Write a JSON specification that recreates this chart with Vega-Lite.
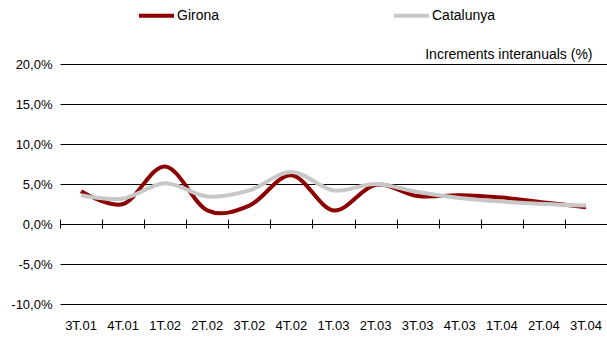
{
  "$schema": "https://vega.github.io/schema/vega-lite/v6.json",
  "width": 547,
  "height": 240,
  "autosize": "none",
  "padding": {"left": 60, "top": 64, "right": 0, "bottom": 34},
  "background": "white",
  "data": {
    "values": [
      {"q": "3T.01", "s": "Girona", "v": 4.1},
      {"q": "4T.01", "s": "Girona", "v": 2.5},
      {"q": "1T.02", "s": "Girona", "v": 7.2},
      {"q": "2T.02", "s": "Girona", "v": 1.7},
      {"q": "3T.02", "s": "Girona", "v": 2.3},
      {"q": "4T.02", "s": "Girona", "v": 6.1},
      {"q": "1T.03", "s": "Girona", "v": 1.7},
      {"q": "2T.03", "s": "Girona", "v": 4.9},
      {"q": "3T.03", "s": "Girona", "v": 3.5},
      {"q": "4T.03", "s": "Girona", "v": 3.6},
      {"q": "1T.04", "s": "Girona", "v": 3.3},
      {"q": "2T.04", "s": "Girona", "v": 2.7},
      {"q": "3T.04", "s": "Girona", "v": 2.1},
      {"q": "3T.01", "s": "Catalunya", "v": 3.6},
      {"q": "4T.01", "s": "Catalunya", "v": 3.2},
      {"q": "1T.02", "s": "Catalunya", "v": 5.1},
      {"q": "2T.02", "s": "Catalunya", "v": 3.45},
      {"q": "3T.02", "s": "Catalunya", "v": 4.2},
      {"q": "4T.02", "s": "Catalunya", "v": 6.5},
      {"q": "1T.03", "s": "Catalunya", "v": 4.2},
      {"q": "2T.03", "s": "Catalunya", "v": 5.0},
      {"q": "3T.03", "s": "Catalunya", "v": 4.0},
      {"q": "4T.03", "s": "Catalunya", "v": 3.25},
      {"q": "1T.04", "s": "Catalunya", "v": 2.8},
      {"q": "2T.04", "s": "Catalunya", "v": 2.5},
      {"q": "3T.04", "s": "Catalunya", "v": 2.3}
    ]
  },
  "layer": [
    {
      "mark": {"type": "line", "opacity": 0},
      "encoding": {
        "x": {
          "field": "q", "type": "ordinal", "sort": null,
          "scale": {"type": "band", "paddingInner": 0, "paddingOuter": 0},
          "axis": {
            "orient": "top", "offset": -164, "labels": false, "domain": false,
            "ticks": true, "tickSize": 9, "tickColor": "#000", "tickWidth": 1, "tickBand": "extent", "grid": false,
            "title": "Increments interanuals (%)",
            "titleX": 532, "titleY": -170, "titleAlign": "right", "titleAnchor": null, "titleBaseline": "alphabetic",
            "titleFont": "Liberation Sans", "titleFontSize": 14, "titleFontWeight": "normal", "titleColor": "#000"
          }
        },
        "y": {
          "field": "v", "type": "quantitative",
          "scale": {"domain": [-10, 20], "nice": false, "zero": false},
          "axis": {
            "title": null, "values": [-10, -5, 0, 5, 10, 15, 20], "tickCount": 7, "domain": false, "ticks": false,
            "grid": true, "gridColor": "#000", "gridWidth": 1, "gridOpacity": 1, "labelOverlap": false,
            "labelPadding": 8, "labelFont": "Liberation Sans", "labelFontSize": 13, "labelColor": "#000",
            "labelExpr": "replace(replace(format(datum.value, '.1f'), '.', ','), '\u2212', '-') + '%'"
          }
        }
      }
    },
    {
      "mark": {"type": "line", "interpolate": "cardinal", "tension": 0, "strokeWidth": 4, "strokeCap": "butt"},
      "encoding": {
        "x": {
          "field": "q", "type": "ordinal", "sort": null,
          "axis": {
            "orient": "bottom", "title": null, "domain": false, "ticks": false, "grid": false,
            "labelAngle": 0, "labelPadding": 15, "labelFont": "Liberation Sans", "labelFontSize": 13, "labelColor": "#000"
          }
        },
        "y": {"field": "v", "type": "quantitative", "axis": null},
        "color": {
          "field": "s", "type": "nominal",
          "scale": {"domain": ["Girona", "Catalunya"], "range": ["#8C0000", "#C8C8C8"]},
          "legend": {
            "title": null, "orient": "none", "direction": "horizontal",
            "legendX": 77, "legendY": -68,
            "symbolType": "stroke", "symbolSize": 1225, "symbolStrokeWidth": 4,
            "labelFont": "Liberation Sans", "labelFontSize": 14, "labelColor": "#000",
            "labelOffset": 1, "columnPadding": 166
          }
        }
      }
    }
  ],
  "resolve": {"axis": {"x": "independent", "y": "independent"}},
  "config": {
    "view": {"stroke": null},
    "axis": {"labelFont": "Liberation Sans"}
  }
}
